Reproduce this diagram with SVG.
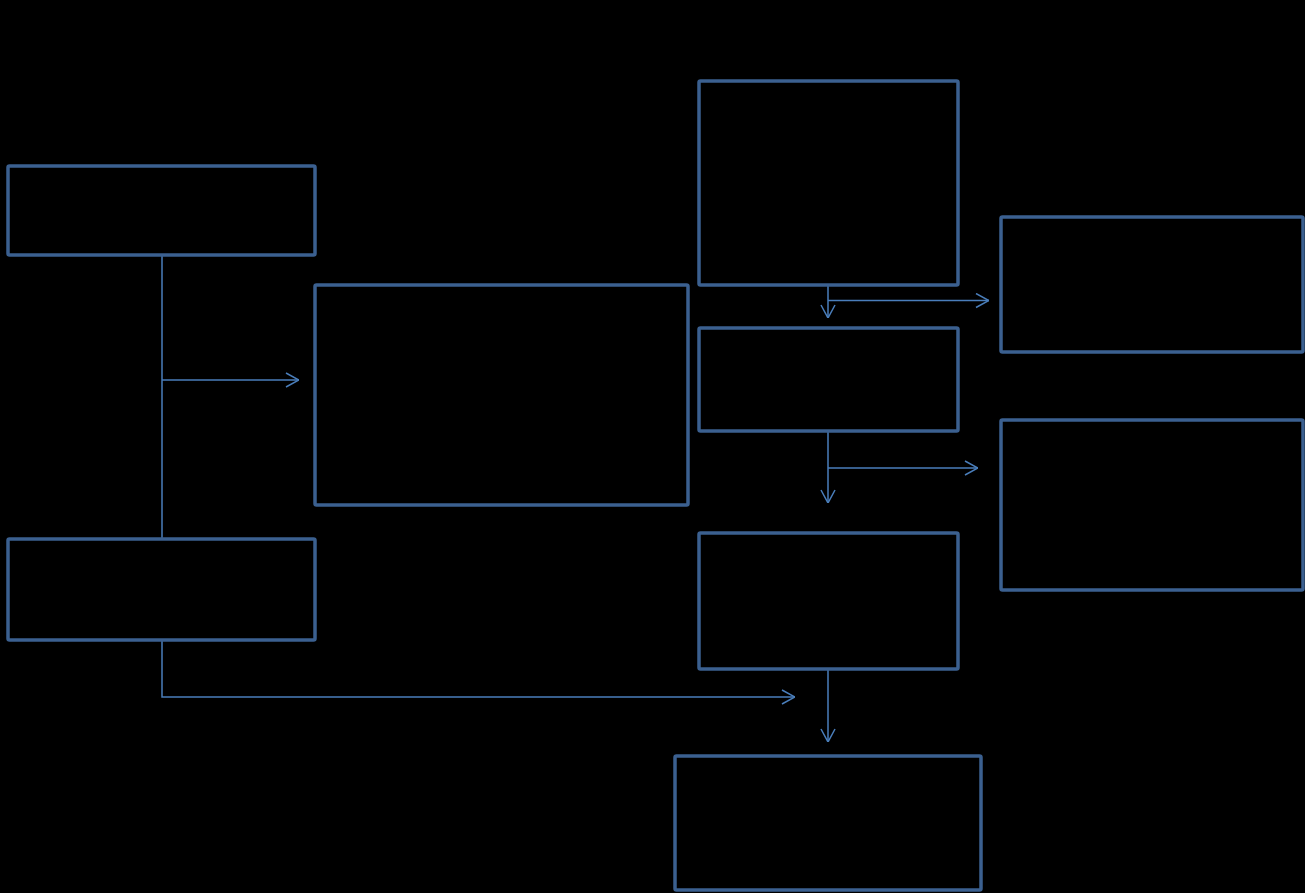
<svg xmlns="http://www.w3.org/2000/svg" width="1305" height="893" viewBox="0 0 1305 893">
<style>
.box{fill:#000;stroke:#3b6090;stroke-width:3.5;stroke-linejoin:round}
.c{fill:none;stroke:#4a7ebb;stroke-width:1.5}
.a{marker-end:url(#ah)}
</style>
<defs>
<marker id="ah" viewBox="0 0 14 16" refX="14" refY="8" markerWidth="14" markerHeight="16" markerUnits="userSpaceOnUse" orient="auto">
<path d="M1,1 L14,8 L1,15" fill="none" stroke="#4a7ebb" stroke-width="1.5"/>
</marker>
</defs>
<rect width="1305" height="893" fill="#000"/>
<g id="connectors">
<path class="c" d="M162,255 V539"/>
<path class="c a" d="M162,380 H299"/>
<path class="c a" d="M162,640 V697 H795"/>
<path class="c a" d="M828,285 V318"/>
<path class="c a" d="M828,300.5 H989"/>
<path class="c a" d="M828,431 V503"/>
<path class="c a" d="M828,468 H978"/>
<path class="c a" d="M828,669 V742"/>
</g>
<g id="nodeA"><rect class="box" x="8" y="166" width="307" height="89" rx="1.5"/></g>
<g id="nodeB"><rect class="box" x="315" y="285" width="373" height="220" rx="1.5"/></g>
<g id="nodeC"><rect class="box" x="699" y="81" width="259" height="204" rx="1.5"/></g>
<g id="nodeD"><rect class="box" x="1001" y="217" width="302" height="135" rx="1.5"/></g>
<g id="nodeE"><rect class="box" x="699" y="328" width="259" height="103" rx="1.5"/></g>
<g id="nodeF"><rect class="box" x="1001" y="420" width="302" height="170" rx="1.5"/></g>
<g id="nodeG"><rect class="box" x="699" y="533" width="259" height="136" rx="1.5"/></g>
<g id="nodeH"><rect class="box" x="8" y="539" width="307" height="101" rx="1.5"/></g>
<g id="nodeI"><rect class="box" x="675" y="756" width="306" height="134" rx="1.5"/></g>
</svg>
